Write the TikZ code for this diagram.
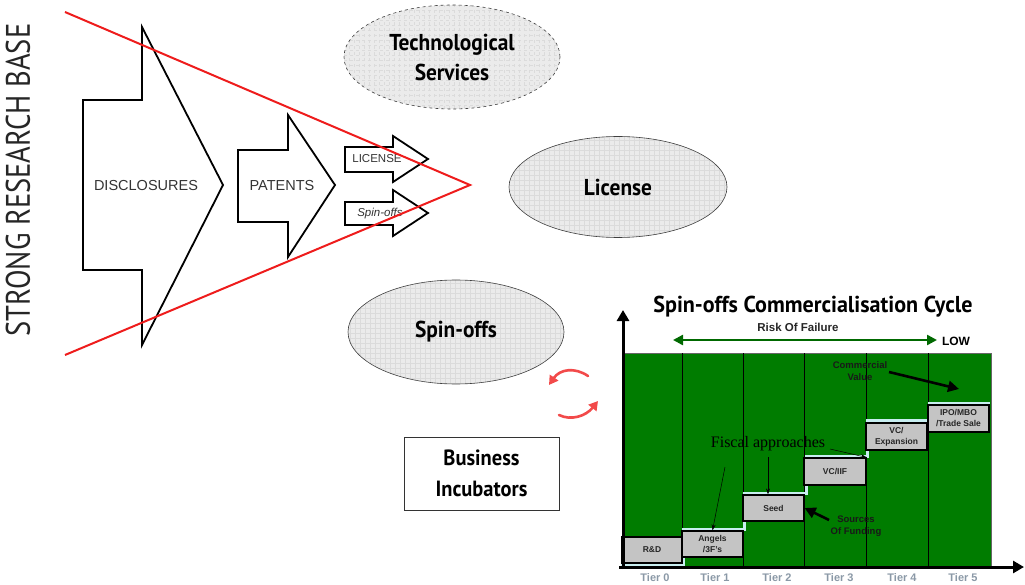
\documentclass[tikz,border=0pt]{standalone}
\usepackage{fontspec}
\usepackage{graphicx}
\setmainfont{Liberation Sans}
\newfontfamily\ptsans{PT Sans}
\newfontfamily\timesf{Liberation Serif}
\usetikzlibrary{shapes.geometric,arrows.meta}
\definecolor{chartgreen}{HTML}{007C00}
\definecolor{redline}{HTML}{EE1C1C}
\definecolor{arcred}{HTML}{F24A4A}
\definecolor{halo}{HTML}{C8EEF0}
\definecolor{tiergray}{HTML}{8A98A6}
\definecolor{boxgray}{HTML}{C4C4C4}
\newcommand{\elltext}[1]{\scalebox{0.93}[1]{#1}}
\begin{document}
\begin{tikzpicture}[x=1pt,y=-1pt,
  bigarrow/.style={draw=black, line width=1.8pt, line join=miter},
  arrowtext/.style={text=black!80, font=\fontsize{14.5}{16}\selectfont, inner sep=0},
  smalltext/.style={text=black!80, font=\fontsize{11.5}{13}\selectfont, inner sep=0},
  ellipsebox/.style={ellipse, draw=black!75, line width=0.6pt, fill=gray!16, inner sep=0,
     minimum width=216pt, minimum height=104pt, align=center,
     font=\ptsans\bfseries\fontsize{23}{30}\selectfont,
     path picture={\draw[gray!28, line width=0.3pt, step=5pt]
       (path picture bounding box.south west) grid (path picture bounding box.north east);}},
  stagebox/.style={draw=black, line width=1.2pt, fill=boxgray, inner sep=0,
     minimum width=60pt, minimum height=26pt, align=center, text=black!85,
     font=\bfseries\fontsize{8.5}{11}\selectfont},
  tierlabel/.style={text=tiergray, font=\bfseries\fontsize{11}{12}\selectfont, inner sep=0},
  charttext/.style={text=black!90, font=\bfseries\fontsize{9.5}{12.5}\selectfont, inner sep=0, align=center},
  axisarrow/.style={line width=3pt, -{Triangle[length=11pt,width=12pt]}},
  thickarrow/.style={line width=2.6pt, -{Triangle[length=11pt,width=11pt]}},
  thinarrow/.style={line width=0.5pt, -{Stealth[length=6pt,width=4pt]}},
  redarc/.style={arcred, line width=2.6pt, line cap=round, -{Triangle[length=9pt,width=10pt]}}
]
\useasboundingbox (0,0) rectangle (1025,585);

% ---- left part: vertical title
\node[rotate=90, inner sep=0, text=black!85] (base) at (18,180)
  {\scalebox{0.84}[1]{\ptsans\fontsize{34}{35}\selectfont STRONG RESEARCH BASE}};

% ---- block arrows
\draw[bigarrow] (83,100) -- (142,100) -- (142,27) -- (223,185) -- (142,345) -- (142,270) -- (83,270) -- cycle;
\node[arrowtext] (disc) at (146,186) {DISCLOSURES};
\draw[bigarrow] (238,150) -- (288,150) -- (288,115) -- (335,185) -- (288,257) -- (288,222) -- (238,222) -- cycle;
\node[arrowtext] (pat) at (282,186) {PATENTS};
\draw[bigarrow] (345,147) -- (393,147) -- (393,136) -- (428,159) -- (393,182) -- (393,172) -- (345,172) -- cycle;
\node[smalltext] (lic) at (377,159) {LICENSE};
\draw[bigarrow] (345,202) -- (393,202) -- (393,190) -- (428,213) -- (393,236) -- (393,225) -- (345,225) -- cycle;
\node[smalltext] (spo) at (380,214) {\itshape Spin-offs};

% ---- red funnel
\coordinate (rtop) at (65,12);
\coordinate (rtip) at (470,185);
\coordinate (rbot) at (65,355);
\draw[redline, line width=2pt, line join=miter] (rtop) -- (rtip) -- (rbot);

% ---- ellipses
\node[ellipsebox, dashed] (tech) at (452,57) {\elltext{Technological}\\\elltext{Services}};
\node[ellipsebox, minimum width=218pt, minimum height=101pt] (licE) at (618,187) {\elltext{License}};
\node[ellipsebox] (spinE) at (456,332) {\elltext{Spin-offs}};

% ---- business incubators
\node[draw=black!80, line width=1pt, minimum width=155pt, minimum height=73pt, align=center,
  inner sep=0, font=\ptsans\bfseries\fontsize{22}{31}\selectfont] (bi) at (481.5,473.5)
  {\elltext{Business}\\\elltext{Incubators}};

% ---- red circular arrows
\coordinate (a1s) at (588,376);
\coordinate (a1e) at (549,385);
\coordinate (a2s) at (559,415);
\coordinate (a2e) at (598,401);
\draw[redarc] (a1s) .. controls (575,367) and (560,369) .. (a1e);
\draw[redarc] (a2s) .. controls (571,421) and (586,416) .. (a2e);

% ---- chart title
\node[inner sep=0, font=\ptsans\bfseries\fontsize{23}{25}\selectfont] (title) at (813,307)
  {\scalebox{0.96}[1]{Spin-offs Commercialisation Cycle}};

% ---- risk arrow
\node[inner sep=0, text=black!85, font=\bfseries\fontsize{11.5}{13}\selectfont] (risk) at (798,327) {Risk Of Failure};
\coordinate (rl) at (673,340);
\coordinate (rr) at (937,340);
\draw[chartgreen!85!black, line width=2.4pt, {Triangle[length=10pt,width=10pt]}-{Triangle[length=10pt,width=10pt]}] (rl) -- (rr);
\node[inner sep=0, font=\bfseries\fontsize{12}{13}\selectfont] (low) at (956,341) {LOW};

% ---- green field and columns
\fill[chartgreen] (623,353) rectangle (991,567);
\draw[black!60, line width=0.8pt] (623,353) -- (991,353) -- (991,567);
\foreach \xx in {682,743,804,866,928}
  \draw[black, line width=1pt] (\xx,353) -- (\xx,567);

% ---- halo staircase
\draw[halo, line width=3pt, line join=miter]
  (621,565) -- (683,565) -- (683,529) -- (744,529) -- (744,493) -- (806,493) -- (806,456)
  -- (867,456) -- (867,420) -- (929,420) -- (929,403) -- (990,403);

% ---- stage boxes
\node[stagebox] (rd) at (652,550) {R\&D};
\node[stagebox, minimum width=61pt] (ang) at (712.5,544) {Angels\\/3F's};
\node[stagebox, minimum width=61pt] (seed) at (773.5,508) {Seed};
\node[stagebox, minimum width=62pt, minimum height=27pt] (vciif) at (835,471.5) {VC/IIF};
\node[stagebox, minimum width=61pt, minimum height=27pt] (vcexp) at (896.5,436.5) {VC/\\Expansion};
\node[stagebox, minimum width=61pt, minimum height=27pt] (ipo) at (958.5,418.5) {IPO/MBO\\/Trade Sale};

% ---- axes
\coordinate (origin) at (623,569);
\coordinate (ytop) at (623,310);
\coordinate (xleft) at (619,567);
\coordinate (xright) at (1024,567);
\draw[axisarrow] (origin) -- (ytop);
\draw[axisarrow] (xleft) -- (xright);

% ---- tier labels
\node[tierlabel] (t0) at (655,578) {Tier 0};
\node[tierlabel] (t1) at (715,578) {Tier 1};
\node[tierlabel] (t2) at (777,578) {Tier 2};
\node[tierlabel] (t3) at (839,578) {Tier 3};
\node[tierlabel] (t4) at (902,578) {Tier 4};
\node[tierlabel] (t5) at (963,578) {Tier 5};

% ---- annotations
\node[charttext] (comm) at (860,371) {Commercial\\Value};
\coordinate (cvend) at (959,389);
\draw[thickarrow] (889,372) -- (cvend);

\node[charttext] (src) at (856,526) {Sources\\Of Funding};
\draw[thickarrow] (829,520) -- (seed.east);

\node[inner sep=0, font=\timesf\fontsize{16}{18}\selectfont] (fiscal) at (768,444) {Fiscal approaches};
\coordinate (f1) at (725,467);
\coordinate (f2) at (768,457);
\coordinate (f3) at (830,449);
\draw[thinarrow] (f1) -- (ang.north);
\draw[thinarrow] (f2) -- (seed.north -| f2);
\draw[thinarrow] (f3) -- (vciif.north east);
\end{tikzpicture}
\end{document}
